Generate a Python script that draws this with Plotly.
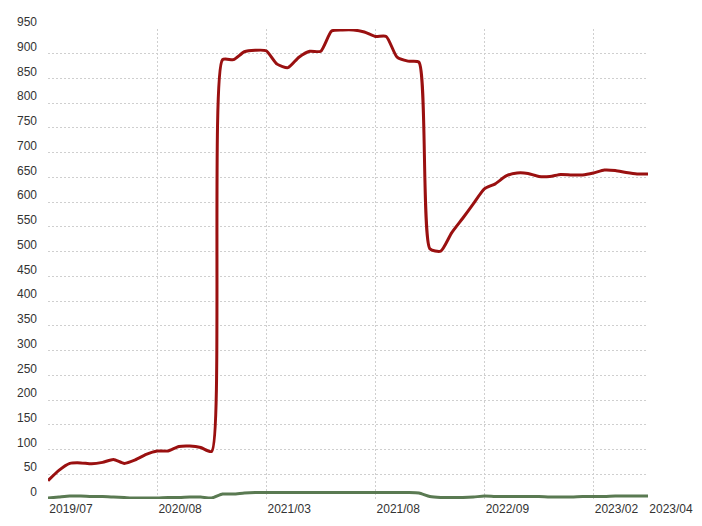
import plotly.graph_objects as go

# x positions (category index) and tick labels
x_index = list(range(56))
tick_positions = [0, 10, 20, 30, 40, 50, 55]
tick_labels = ["2019/07", "2020/08", "2021/03", "2021/08", "2022/09", "2023/02", "2023/04"]

red_values = [37, 58, 72, 73, 71, 74, 80, 72, 79, 90,
              97, 97, 106, 107, 104, 96, 888, 888, 904, 907,
              906, 879, 872, 893, 905, 905, 946, 948, 948, 944,
              935, 935, 893, 885, 883, 506, 501, 538, 567, 597,
              627, 637, 653, 659, 658, 652, 652, 656, 655, 655,
              659, 665, 664, 660, 657, 657]

green_values = [2, 4, 6, 6, 5, 5, 4, 3, 2, 2,
                2, 3, 3, 4, 4, 2, 10, 10, 12, 13,
                13, 13, 13, 13, 13, 13, 13, 13, 13, 13,
                13, 13, 13, 13, 12, 5, 3, 3, 3, 4,
                6, 5, 5, 5, 5, 5, 4, 4, 4, 5,
                5, 5, 6, 6, 6, 6]

y_ticks = list(range(0, 951, 50))

fig = go.Figure()
fig.add_trace(go.Scatter(x=x_index, y=green_values, mode="lines",
                         line=dict(color="#5a7a52", width=3, shape="spline", smoothing=0.6),
                         showlegend=False, hoverinfo="skip"))
fig.add_trace(go.Scatter(x=x_index, y=red_values, mode="lines",
                         line=dict(color="#9a1010", width=3, shape="spline", smoothing=0.6),
                         showlegend=False, hoverinfo="skip"))

font = dict(family="Liberation Sans, Arial, sans-serif", size=12, color="#333333")

# page body has an 8px margin, so the figure is sized/offset accordingly
fig.update_layout(
    width=694, height=518,
    margin=dict(l=40, r=54, t=21, b=26.5),
    paper_bgcolor="white", plot_bgcolor="white",
    showlegend=False,
    font=font,
)
fig.update_xaxes(
    range=[0, 55], tickmode="array", tickvals=tick_positions, ticktext=tick_labels,
    showgrid=True, gridcolor="#cfcfcf", griddash="2px,2px", gridwidth=1,
    zeroline=False, showline=False, ticks="", tickfont=font,
    ticklabelshift=23, ticklabelstandoff=1, automargin=False,
)
fig.update_yaxes(
    range=[0, 950], tickmode="array", tickvals=y_ticks,
    showgrid=True, gridcolor="#cfcfcf", griddash="2px,2px", gridwidth=1,
    zeroline=False, showline=False, ticks="", tickfont=font,
    ticklabelstandoff=10, ticklabelshift=-7, automargin=False,
)

fig.write_html("out.html")
